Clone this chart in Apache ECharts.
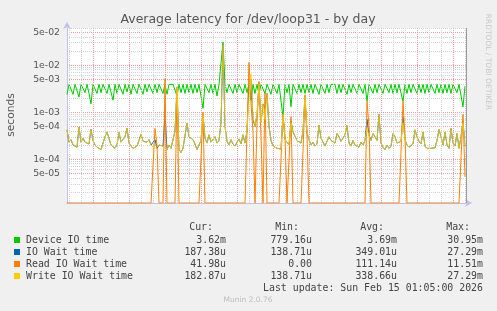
<!DOCTYPE html>
<html><head><meta charset="utf-8">
<script src="https://cdn.jsdelivr.net/npm/echarts@6/dist/echarts.min.js"></script>
<style>html,body{margin:0;padding:0;background:#f0f0f0;}#c{width:497px;height:311px;}</style>
</head><body><div id="c"></div>
<script>
// ---- time axis ----
const START = Date.UTC(2026, 1, 13, 15, 50);   // Fri 15:50
const END = Date.UTC(2026, 1, 15, 1, 5);       // Sun 01:05 (last update)
const STEP = 10 * 60 * 1000;                   // 10-minute samples
const xTickLabels = ['Fri 18:00', 'Sat 00:00', 'Sat 06:00', 'Sat 12:00', 'Sat 18:00', 'Sun 00:00'];
const xTickTimes = [Date.UTC(2026,1,13,18), Date.UTC(2026,1,14,0), Date.UTC(2026,1,14,6), Date.UTC(2026,1,14,12), Date.UTC(2026,1,14,18), Date.UTC(2026,1,15,0)];
// ---- y axis (log, seconds) ----
const YMIN = 1.17e-5, YMAX = 0.0617;
const yTickLabels = ['5e-02', '1e-02', '5e-03', '1e-03', '5e-04', '1e-04', '5e-05'];
const yTickValues = [5e-2, 1e-2, 5e-3, 1e-3, 5e-4, 1e-4, 5e-5];

// ---- series ----
// Device IO time, milliseconds
const deviceMs = [
2.4,3.9,3.9,2.4,3.9,3.9,2.1,3.9,3.9,2.6,
3.9,2.5,1.5,3.9,3.9,2.5,3.9,2.6,3.9,3.9,
2.5,3.9,3.9,1.8,3.9,2.5,3.9,3.9,2.4,3.9,
2.7,3.9,2.4,3.9,3.9,2.5,3.9,3.9,2.4,3.9,
2.7,3.9,3.9,2.5,3.9,2.6,3.9,3.9,2.5,3.9,
2.4,3.9,3.9,3.9,3.9,2.2,3.9,2.6,3.9,2.5,
3.9,2.6,3.9,2.5,3.9,2.6,3.9,3.9,1.2,3.9,
3.9,2.6,3.9,2.5,3.9,2.2,3.9,3.9,30.95,3.9,
2.6,3.9,3.9,2.5,3.9,2.6,3.9,3.9,2.5,3.9,
2.6,3.9,1.8,3.9,2.5,3.9,2.4,3.9,3.9,2.5,
3.9,3.9,2.4,3.9,3.9,2.5,3.9,3.9,0.78,3.9,
2.6,3.9,1.3,3.9,3.9,2.5,3.9,2.6,3.9,2.5,
3.9,2.6,3.9,2.5,3.9,3.9,2.4,3.9,3.9,2.5,
3.9,2.6,3.9,3.9,3.9,2.5,3.9,2.6,3.9,3.9,
2.4,3.9,2.6,3.9,3.9,2.5,3.9,3.9,2.5,3.9,
1.7,3.9,3.9,2.5,3.9,2.6,3.9,3.9,2.5,3.9,
3.9,2.6,3.9,2.5,3.9,2.6,3.9,3.9,1.7,3.9,
2.5,3.9,2.6,3.9,3.9,2.5,3.9,2.6,3.9,2.5,
3.9,2.6,3.9,3.9,2.5,3.9,2.6,3.9,2.5,3.9,
2.6,3.9,2.5,3.9,3.9,2.6,3.9,3.9,1.3,3.62];
// Write IO Wait time, microseconds
const writeUs = [
420,230,260,200,185,180,480,230,280,230,
250,210,430,250,200,180,170,160,175,300,
380,370,200,190,170,200,370,230,210,300,
460,220,190,170,165,190,250,340,240,220,
230,260,200,210,170,160,200,220,190,200,
160,200,170,180,400,3500,160,139,170,180,
580,300,330,260,210,160,200,250,900,280,
220,330,230,230,300,220,250,600,27290,500,
240,200,260,210,190,230,270,210,330,220,
400,2000,6500,800,500,900,4000,600,1500,700,
2500,500,250,190,180,170,160,165,900,260,
230,200,600,380,350,250,240,220,400,2400,
380,260,200,230,190,210,530,280,230,190,
200,300,250,270,220,350,300,240,280,330,
520,220,190,250,200,190,180,230,200,250,
450,300,250,350,300,250,900,220,180,160,
200,170,190,350,300,220,200,240,600,250,
200,180,170,210,420,300,240,210,380,190,
170,160,170,180,175,250,430,300,200,380,
200,170,450,220,190,350,170,300,600,182.87];
// IO Wait time, microseconds
const ioWaitUs = [
420,230,260,200,185,180,480,230,280,230,
250,210,430,250,200,180,170,160,175,300,
380,370,200,190,170,200,370,230,210,300,
460,220,190,170,165,190,250,340,240,220,
230,260,200,210,260,170,200,220,190,900,
160,200,170,180,400,3400,160,139,170,180,
580,300,330,260,210,160,200,250,920,280,
220,330,230,230,300,220,250,600,27290,500,
240,200,260,210,190,230,270,210,330,220,
400,4000,5000,700,500,850,4100,600,1500,1200,
2500,500,250,190,180,170,160,165,900,260,
230,200,650,380,350,250,240,220,400,2300,
360,260,200,230,190,210,530,280,230,190,
200,300,250,270,220,350,300,240,280,330,
520,220,190,250,200,190,180,230,200,250,
700,330,250,350,300,250,900,220,180,160,
200,170,190,350,300,220,200,240,800,260,
200,180,170,210,420,300,240,210,380,190,
170,160,170,180,175,250,430,300,200,380,
200,170,450,220,190,350,170,300,650,187.38];
// Read IO Wait time, microseconds
const readUs = [
0,0,0,0,0,0,0,0,0,0,
0,0,0,0,0,0,0,0,0,0,
0,0,0,0,0,0,0,0,0,0,
0,0,0,0,0,0,0,0,0,0,
0,0,0,0,450,200,0,0,0,5200,
0,0,0,0,0,3000,0,0,0,0,
0,0,0,0,0,0,0,0,1000,0,
0,0,0,0,0,0,0,0,0,0,
0,0,0,0,0,0,0,0,0,0,
0,11510,1500,400,0,600,4500,300,0,2600,
0,0,0,0,0,0,0,0,900,300,
0,0,800,0,0,0,0,0,0,2000,
300,0,0,0,0,0,0,0,0,0,
0,0,0,0,0,0,0,0,0,0,
0,0,0,0,0,0,0,0,0,0,
1700,500,0,0,0,0,0,0,0,0,
0,0,0,0,0,0,0,0,1700,300,
0,0,0,0,0,0,0,0,0,0,
0,0,0,0,0,0,0,0,0,0,
0,0,0,0,0,0,0,0,900,41.98];

// ---- legend table ----
const legendNames = ['Device IO time', 'IO Wait time', 'Read IO Wait time', 'Write IO Wait time'];
const legendColors = ['#00cc00', '#0066b3', '#ff8000', '#ffcc00'];
const curVals = ['3.62m', '187.38u', '41.98u', '182.87u'];
const minVals = ['779.16u', '138.71u', '0.00', '138.71u'];
const avgVals = ['3.69m', '349.01u', '111.14u', '338.66u'];
const maxVals = ['30.95m', '27.29m', '11.51m', '27.29m'];

function pts(arr, scale) {
  return arr.map((v, i) => [START + i * STEP, v === 0 ? YMIN : v * scale]);
}

const RED = '#eb9c9c', GRAY = '#d2d2d2';
// minor horizontal grid values
const yMinorValues = [];
for (let e = -5; e <= -2; e++) {
  [2, 3, 4, 6, 7, 8, 9].forEach(m => {
    const v = +(m * Math.pow(10, e)).toPrecision(3);
    if (v > YMIN && v < YMAX * 0.99) yMinorValues.push(v);
  });
}
// vertical grid lines (markLine on time axis)
const gridLines = [];
for (let t = Date.UTC(2026, 1, 13, 16); t < END; t += 3600000) {
  const h = new Date(t).getUTCHours();
  gridLines.push({ xAxis: t, lineStyle: { color: h % 3 === 0 ? RED : GRAY, type: 'dotted', width: 1 }, label: { show: false } });
}
xTickTimes.forEach((t, k) => {
  gridLines.push({ xAxis: t, lineStyle: { opacity: 0 },
    label: { show: true, position: 'start', formatter: xTickLabels[k], distance: 5, color: '#555', fontSize: 9.3, fontFamily: 'DejaVu Sans' } });
});
gridLines.push({ xAxis: END, lineStyle: { color: '#9a9a9a', type: 'solid', width: 1 }, label: { show: false } });

function yLabel(v) {
  let best = 0, bd = 1e9;
  yTickValues.forEach((t, k) => { const d = Math.abs(Math.log10(v) - Math.log10(t)); if (d < bd) { bd = d; best = k; } });
  return yTickLabels[best];
}

const chart = echarts.init(document.getElementById('c'), null, { renderer: 'canvas' });
const mono = 'DejaVu Sans Mono';
const graphics = [
  { type: 'text', x: 248, y: 19.5, style: { text: 'Average latency for /dev/loop31 - by day', fill: '#555', font: '12.5px "DejaVu Sans"', textAlign: 'center', textVerticalAlign: 'middle' } },
  { type: 'text', x: 11, y: 115, rotation: Math.PI / 2, style: { text: 'seconds', fill: '#555', font: '10.7px "DejaVu Sans"', textAlign: 'center', textVerticalAlign: 'middle' } },
  { type: 'text', x: 488, y: 62, rotation: -Math.PI / 2, style: { text: 'RRDTOOL / TOBI OETIKER', fill: '#c8c8c8', font: '7.5px "DejaVu Sans"', textAlign: 'center', textVerticalAlign: 'middle' } },
  { type: 'text', x: 213, y: 227.5, style: { text: 'Cur:', fill: '#444', font: '9.9px "' + mono + '"', textAlign: 'right', textVerticalAlign: 'middle' } },
  { type: 'text', x: 299, y: 227.5, style: { text: 'Min:', fill: '#444', font: '9.9px "' + mono + '"', textAlign: 'right', textVerticalAlign: 'middle' } },
  { type: 'text', x: 384, y: 227.5, style: { text: 'Avg:', fill: '#444', font: '9.9px "' + mono + '"', textAlign: 'right', textVerticalAlign: 'middle' } },
  { type: 'text', x: 470, y: 227.5, style: { text: 'Max:', fill: '#444', font: '9.9px "' + mono + '"', textAlign: 'right', textVerticalAlign: 'middle' } },
  { type: 'text', x: 483, y: 288, style: { text: 'Last update: Sun Feb 15 01:05:00 2026', fill: '#444', font: '9.9px "' + mono + '"', textAlign: 'right', textVerticalAlign: 'middle' } },
  { type: 'text', x: 248, y: 300.5, style: { text: 'Munin 2.0.76', fill: '#bdbdbd', font: '7.5px "DejaVu Sans"', textAlign: 'center', textVerticalAlign: 'middle' } }
];
legendNames.forEach((n, k) => {
  const y = 240 + k * 12;
  graphics.push({ type: 'rect', shape: { x: 14, y: y - 3, width: 6, height: 6 }, style: { fill: legendColors[k] } });
  graphics.push({ type: 'text', x: 26, y: y, style: { text: n, fill: '#444', font: '9.9px "' + mono + '"', textVerticalAlign: 'middle' } });
  [[curVals, 226], [minVals, 312], [avgVals, 397], [maxVals, 483]].forEach(([arr, xr]) => {
    graphics.push({ type: 'text', x: xr, y: y, style: { text: arr[k], fill: '#444', font: '9.9px "' + mono + '"', textAlign: 'right', textVerticalAlign: 'middle' } });
  });
});

const lineSeries = (name, data, color, z, opacity) => ({
  name, type: 'line', data, symbol: 'none', z, clip: true, yAxisIndex: 0,
  lineStyle: { color, width: 1, opacity: opacity }, itemStyle: { color }, emphasis: { disabled: true }
});

chart.setOption({
  animation: false,
  backgroundColor: '#f0f0f0',
  grid: { left: 67, right: 31, top: 28, bottom: 108, show: true, backgroundColor: '#ffffff', borderWidth: 0 },
  xAxis: { type: 'time', min: START, max: END,
    axisLabel: { show: false }, axisTick: { show: false }, splitLine: { show: false },
    axisLine: { show: true, onZero: false, lineStyle: { color: '#c0c0ee', width: 1 }, symbol: ['none', 'arrow'], symbolSize: [6, 7], symbolOffset: [0, 6] } },
  yAxis: [
    { type: 'log', logBase: 10, min: YMIN, max: YMAX, position: 'left', z: 2,
      axisLabel: { show: true, customValues: yTickValues, formatter: yLabel, color: '#555', fontSize: 9.3, fontFamily: 'DejaVu Sans', margin: 7 },
      axisTick: { show: false, customValues: yTickValues },
      splitLine: { show: true, lineStyle: { color: RED, type: 'dotted', width: 1 } },
      axisLine: { show: true, onZero: false, lineStyle: { color: '#c0c0ee', width: 1 }, symbol: ['none', 'arrow'], symbolSize: [6, 7], symbolOffset: [0, 6] } },
    { type: 'log', logBase: 10, min: YMIN, max: YMAX, position: 'left', z: 1,
      axisLabel: { show: false, customValues: yMinorValues },
      axisTick: { show: false, customValues: yMinorValues },
      splitLine: { show: true, lineStyle: { color: GRAY, type: 'dotted', width: 1 } },
      axisLine: { show: false } }
  ],
  graphic: graphics,
  series: [
    { type: 'line', data: [], z: 1, silent: true,
      markLine: { silent: true, symbol: ['none', 'none'], animation: false, data: gridLines } },
    lineSeries('Device IO time', pts(deviceMs, 1e-3), '#00cc00', 3, 1),
    lineSeries('IO Wait time', pts(ioWaitUs, 1e-6), '#0066b3', 4, 1),
    lineSeries('Read IO Wait time', pts(readUs, 1e-6), '#ff8000', 5, 1),
    lineSeries('Write IO Wait time', pts(writeUs, 1e-6), '#ffcc00', 6, 0.85)
  ]
});
</script>
</body></html>
